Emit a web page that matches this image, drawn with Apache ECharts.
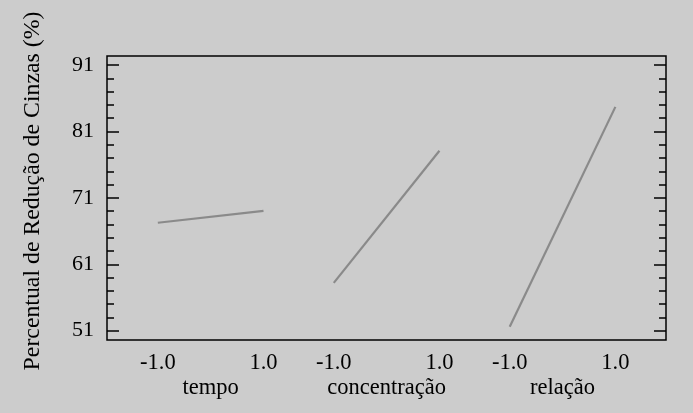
<!DOCTYPE html>
<html>
<head>
<meta charset="utf-8">
<script src="https://cdn.jsdelivr.net/npm/echarts@6/dist/echarts.min.js"></script>
<style>
html,body{margin:0;padding:0;background:#cccccc;}
#chart{width:693px;height:413px;}
</style>
</head>
<body>
<div id="chart"></div>
<script>
// ---- data ----
const factors = ['tempo', 'concentração', 'relação'];
const levels = [-1, 1];
const levelLabels = ['-1.0', '1.0'];
const tempoMeans = [67.25, 69.05];
const concentracaoMeans = [58.2, 78.1];
const relacaoMeans = [51.6, 84.7];
const yMajorTicks = [51, 61, 71, 81, 91];
const yMinorTicks = [53, 55, 57, 59, 63, 65, 67, 69, 73, 75, 77, 79, 83, 85, 87, 89];
const yTitle = 'Percentual de Redução de Cinzas (%)';

// ---- layout ----
const FONT = '"Liberation Serif", "Times New Roman", serif';
const Y_MIN = 49.6, Y_MAX = 92.36;
const PLOT_UNITS = 10.58;     // axis width expressed in level units
const FIRST_OFFSET = 0.962;   // distance from left frame to first level (-1)
const GROUP_PITCH = 3.33;     // distance between groups in level units

const allMeans = [tempoMeans, concentracaoMeans, relacaoMeans];

function xAx(g, values, margin, fmt) {
  const min = -1 - (FIRST_OFFSET + g * GROUP_PITCH);
  return {
    type: 'value', gridIndex: 0, position: 'bottom', min: min, max: min + PLOT_UNITS,
    axisLine: {show: false, onZero: false}, axisTick: {show: false}, splitLine: {show: false},
    axisLabel: {
      customValues: values, margin: margin, hideOverlap: false,
      color: '#000', fontFamily: FONT, fontSize: 22.5,
      formatter: fmt
    }
  };
}

const xAxes = [];
factors.forEach((name, g) => {
  xAxes.push(xAx(g, levels, 12, v => levelLabels[levels.indexOf(v)]));
});
factors.forEach((name, g) => {
  xAxes.push(xAx(g, [0], 37, () => name));
});

function yAx(pos, ticks, len, labels) {
  return {
    type: 'value', position: pos, min: Y_MIN, max: Y_MAX,
    axisLine: {show: false, onZero: false}, splitLine: {show: false},
    axisTick: {show: true, inside: true, length: len, customValues: ticks,
      lineStyle: {color: '#000', width: 1.5}},
    axisLabel: labels ? {show: true, customValues: ticks, margin: 13,
      color: '#000', fontFamily: FONT, fontSize: 22} : {show: false},
  };
}

const yAxes = [
  Object.assign(yAx('left', yMajorTicks, 12, true), {
    name: yTitle, nameLocation: 'middle', nameGap: 62, nameRotate: 90,
    nameTextStyle: {color: '#000', fontFamily: FONT, fontSize: 23.8, padding: [0, 0, 0, 14]}
  }),
  yAx('left', yMinorTicks, 7, false),
  yAx('right', yMajorTicks, 12, false),
  yAx('right', yMinorTicks, 7, false)
];

const series = factors.map((name, g) => ({
  type: 'line', name: name, xAxisIndex: g, yAxisIndex: 0,
  data: levels.map((lv, i) => [lv, allMeans[g][i]]),
  showSymbol: false, symbol: 'none', silent: true, animation: false,
  lineStyle: {color: '#8a8a8a', width: 2.2}
}));

const chart = echarts.init(document.getElementById('chart'), null, {renderer: 'canvas'});
chart.setOption({
  backgroundColor: '#cccccc',
  animation: false,
  grid: {left: 107, top: 56, right: 27, bottom: 73, show: true,
    borderColor: '#000', borderWidth: 1.5, backgroundColor: 'transparent'},
  xAxis: xAxes,
  yAxis: yAxes,
  series: series
});
</script>
</body>
</html>
